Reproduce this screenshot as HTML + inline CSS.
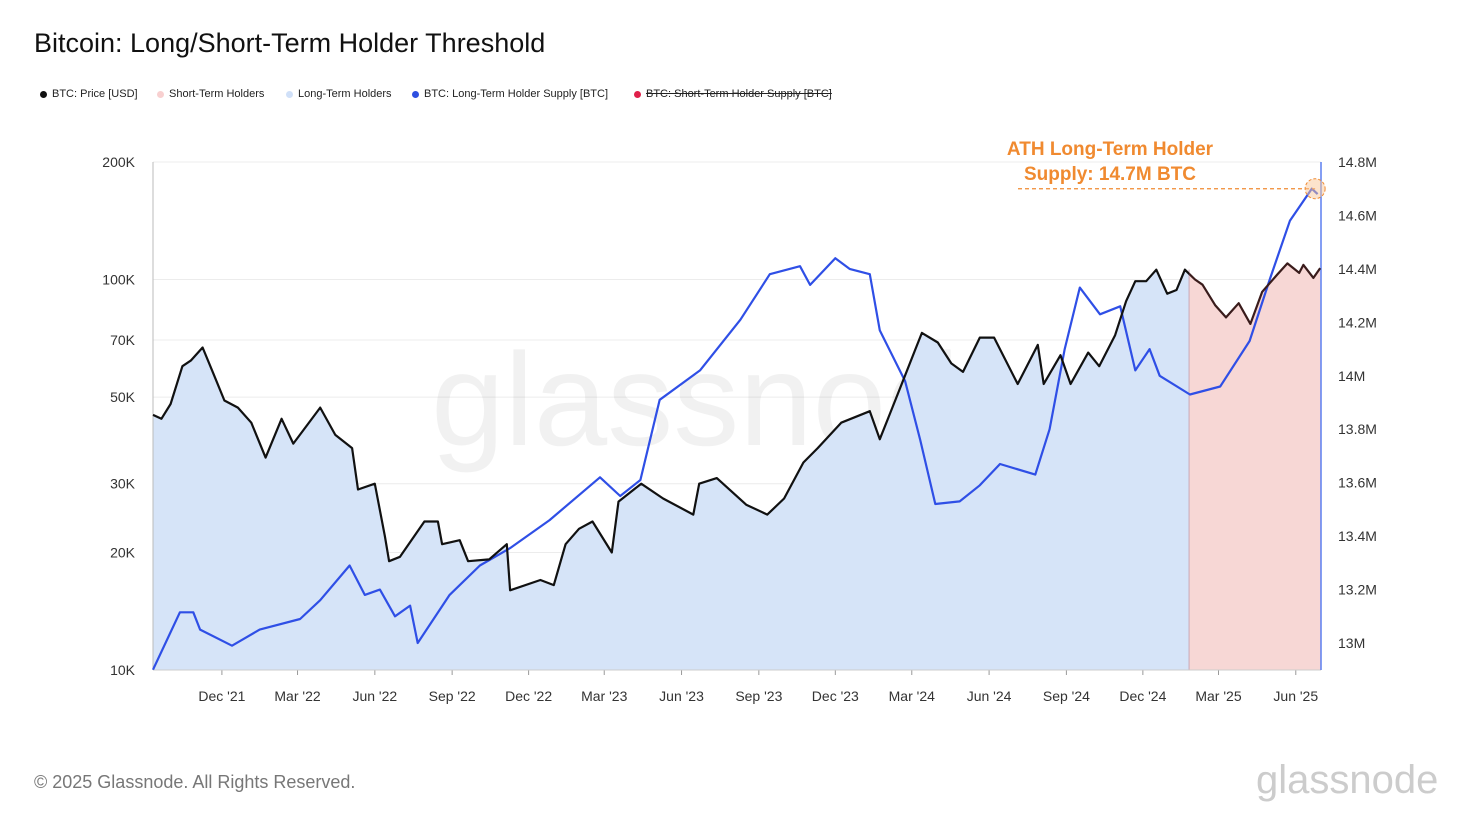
<!DOCTYPE html>
<html><head><meta charset="utf-8"><style>
body{margin:0;background:#fff;font-family:"Liberation Sans",sans-serif}
#wrap{position:relative;width:1470px;height:820px;overflow:hidden;background:#fff}
.t{position:absolute;white-space:nowrap}
.leg{position:absolute;top:88px;font-size:11px;color:#222;display:flex;align-items:center}
.leg i{display:inline-block;width:7px;height:7px;border-radius:50%;margin-right:5px}
</style></head><body>
<div id="wrap">
<div class="t" style="left:34px;top:28px;font-size:27px;color:#111">Bitcoin: Long/Short-Term Holder Threshold</div>
<div class="leg" style="left:40px"><i style="background:#111"></i>BTC: Price [USD]</div>
<div class="leg" style="left:157px"><i style="background:#f8d0d0"></i>Short-Term Holders</div>
<div class="leg" style="left:286px"><i style="background:#d0e0f8"></i>Long-Term Holders</div>
<div class="leg" style="left:412px"><i style="background:#2e4fe0"></i>BTC: Long-Term Holder Supply [BTC]</div>
<div class="leg" style="left:634px;text-decoration:line-through"><i style="background:#e0204a"></i>BTC: Short-Term Holder Supply [BTC]</div>
<svg id="chart" width="1470" height="820" style="position:absolute;left:0;top:0"></svg>
<div class="t" style="left:34px;top:772px;font-size:18px;color:#777">© 2025 Glassnode. All Rights Reserved.</div>
<div class="t" style="left:1256px;top:758px;font-size:40px;color:#ccc">glassnode</div>
</div>
<script>
const priceDates=["2021-09-10","2021-09-20","2021-10-01","2021-10-15","2021-10-25","2021-11-08","2021-11-20","2021-12-04","2021-12-20","2022-01-05","2022-01-22","2022-02-10","2022-02-24","2022-03-28","2022-04-15","2022-05-05","2022-05-12","2022-06-01","2022-06-13","2022-06-18","2022-07-01","2022-07-30","2022-08-15","2022-08-20","2022-09-10","2022-09-20","2022-10-15","2022-11-05","2022-11-09","2022-12-15","2022-12-31","2023-01-14","2023-01-30","2023-02-15","2023-03-10","2023-03-18","2023-04-14","2023-05-10","2023-06-15","2023-06-22","2023-07-13","2023-08-17","2023-09-11","2023-10-01","2023-10-24","2023-11-10","2023-12-08","2024-01-11","2024-01-23","2024-02-15","2024-03-05","2024-03-13","2024-04-01","2024-04-17","2024-05-01","2024-05-21","2024-06-07","2024-07-05","2024-07-29","2024-08-05","2024-08-25","2024-09-06","2024-09-27","2024-10-10","2024-10-29","2024-11-11","2024-11-22","2024-12-05","2024-12-17","2024-12-30","2025-01-10","2025-01-20","2025-02-01","2025-02-10","2025-02-25","2025-03-10","2025-03-25","2025-04-08","2025-04-22","2025-05-10","2025-05-22","2025-06-05","2025-06-10","2025-06-22","2025-06-30"];
const priceValues=[45000,44000,48000,60000,62000,67000,58000,49000,47000,43000,35000,44000,38000,47000,40000,37000,29000,30000,22000,19000,19500,24000,24000,21000,21500,19000,19200,21000,16000,17000,16500,21000,23000,24000,20000,27000,30000,27500,25000,30000,31000,26500,25000,27500,34000,37000,43000,46000,39000,52000,66000,73000,69000,61000,58000,71000,71000,54000,68000,54000,64000,54000,65000,60000,72000,88000,99000,99000,106000,92000,94000,106000,100000,97000,86000,80000,87000,77000,93000,103000,110000,104000,109000,101000,107000];
const lthDates=["2021-09-10","2021-10-12","2021-10-28","2021-11-05","2021-12-13","2022-01-15","2022-03-04","2022-03-28","2022-05-02","2022-05-20","2022-06-07","2022-06-25","2022-07-13","2022-07-22","2022-08-29","2022-10-04","2022-11-09","2022-12-26","2023-02-24","2023-03-20","2023-04-13","2023-05-06","2023-06-23","2023-08-10","2023-09-14","2023-10-20","2023-11-01","2023-12-01","2023-12-18","2024-01-11","2024-01-23","2024-02-22","2024-03-11","2024-03-29","2024-04-27","2024-05-21","2024-06-14","2024-07-26","2024-08-12","2024-08-30","2024-09-17","2024-10-11","2024-11-04","2024-11-22","2024-12-09","2024-12-21","2025-01-26","2025-03-03","2025-04-07","2025-05-01","2025-05-25","2025-06-20","2025-06-27"];
const lthValues=[12.90,13.115,13.115,13.05,12.99,13.05,13.09,13.16,13.29,13.18,13.20,13.10,13.14,13.00,13.18,13.29,13.355,13.46,13.62,13.55,13.61,13.91,14.02,14.21,14.38,14.41,14.34,14.44,14.40,14.38,14.17,13.98,13.76,13.52,13.53,13.59,13.67,13.63,13.80,14.10,14.33,14.23,14.26,14.02,14.10,14.00,13.93,13.96,14.13,14.36,14.58,14.70,14.68];
const leftTicks=[10000,20000,30000,50000,70000,100000,200000];
const leftTickLabels=["10K","20K","30K","50K","70K","100K","200K"];
const rightTicks=[13.0,13.2,13.4,13.6,13.8,14.0,14.2,14.4,14.6,14.8];
const rightTickLabels=["13M","13.2M","13.4M","13.6M","13.8M","14M","14.2M","14.4M","14.6M","14.8M"];
const xTickDates=["2021-12-01","2022-03-01","2022-06-01","2022-09-01","2022-12-01","2023-03-01","2023-06-01","2023-09-01","2023-12-01","2024-03-01","2024-06-01","2024-09-01","2024-12-01","2025-03-01","2025-06-01"];
const xTickLabels=["Dec '21","Mar '22","Jun '22","Sep '22","Dec '22","Mar '23","Jun '23","Sep '23","Dec '23","Mar '24","Jun '24","Sep '24","Dec '24","Mar '25","Jun '25"];
const sthStart="2025-01-25";
const athValue=14.70, athDate="2025-06-24";

const X0=153,X1=1321,YT=162,YB=670;
const t0=Date.parse("2021-09-10"), t1=Date.parse("2025-07-01");
const x=d=>X0+(Date.parse(d)-t0)/(t1-t0)*(X1-X0);
const yL=v=>YB-(Math.log10(v)-4)/(Math.log10(200000)-4)*(YB-YT);
const yR=v=>YT+(14.8-v)/1.8*481;
const svg=document.getElementById('chart');
const NS="http://www.w3.org/2000/svg";
function mk(tag,attrs,parent){const e=document.createElementNS(NS,tag);for(const k in attrs)e.setAttribute(k,attrs[k]);(parent||svg).appendChild(e);return e;}

leftTicks.forEach((v,i)=>{
  const g=mk('line',{x1:X0,x2:X1,y1:yL(v),y2:yL(v),stroke:'#ececec','stroke-width':1});
  
  
  const t=mk('text',{x:135,y:yL(v)+5,'text-anchor':'end','font-size':14,fill:'#333','font-family':'Liberation Sans, sans-serif'});
  t.textContent=leftTickLabels[i];
  
  
});
rightTicks.forEach((v,i)=>{
  const t=mk('text',{x:1338,y:yR(v)+5,'font-size':14,fill:'#333','font-family':'Liberation Sans, sans-serif'});
  t.textContent=rightTickLabels[i];
  
  
});
xTickDates.forEach((d,i)=>{
  const xx=x(d);
  mk('line',{x1:xx,x2:xx,y1:YB,y2:YB+5,stroke:'#999'});
  const t=mk('text',{x:xx,y:701,'text-anchor':'middle','font-size':14,fill:'#333','font-family':'Liberation Sans, sans-serif'});
  t.textContent=xTickLabels[i];
  
  
});
const wm=mk('text',{x:732,y:445,'text-anchor':'middle','font-size':132,fill:'#000','fill-opacity':0.055,'font-family':'Liberation Sans, sans-serif'});
wm.textContent='glassnode';



const defs=mk('defs',{});
const xs=x(sthStart);
const c1=mk('clipPath',{id:'cb'},defs);mk('rect',{x:0,y:0,width:xs,height:820},c1);
const c2=mk('clipPath',{id:'cr'},defs);mk('rect',{x:xs,y:0,width:1470-xs,height:820},c2);

let pts=priceDates.map((d,i)=>[x(d),yL(priceValues[i])]);
let lineD='M'+pts.map(p=>p[0].toFixed(1)+','+p[1].toFixed(1)).join('L');
let areaD=lineD+`L${X1},${YB}L${X0},${YB}Z`;
const a1=mk('path',{d:areaD,fill:'#d6e4f8','clip-path':'url(#cb)'});


const a2=mk('path',{d:areaD,fill:'#f7d7d5','clip-path':'url(#cr)'});


mk('line',{x1:xs,x2:xs,y1:yL(priceValues[71]),y2:YB,stroke:'#c9a8b8','stroke-width':1});
mk('line',{x1:X0,x2:X0,y1:YT,y2:YB,stroke:'#bbb'});
mk('line',{x1:X0,x2:X1,y1:YB,y2:YB,stroke:'#ccc'});
mk('line',{x1:X1,x2:X1,y1:YT,y2:YB,stroke:'#5b7ef0','stroke-width':1.5});

const lp=lthDates.map((d,i)=>[x(d),yR(lthValues[i])]);
const lth=mk('path',{d:'M'+lp.map(p=>p[0].toFixed(1)+','+p[1].toFixed(1)).join('L'),fill:'none',stroke:'#2f4fe6','stroke-width':2.2,'stroke-linejoin':'round'});



const p1=mk('path',{d:lineD,fill:'none',stroke:'#111','stroke-width':2.2,'clip-path':'url(#cb)','stroke-linejoin':'round'});


const p2=mk('path',{d:lineD,fill:'none',stroke:'#3a1c1c','stroke-width':2.2,'clip-path':'url(#cr)','stroke-linejoin':'round'});



const ax=x(athDate), ay=yR(athValue);
mk('line',{x1:1018,x2:ax,y1:ay,y2:ay,stroke:'#f08a30','stroke-width':1.3,'stroke-dasharray':'4,3'});
const circ=mk('circle',{cx:ax,cy:ay,r:10,fill:'#f9c79a','fill-opacity':0.5,stroke:'#f08a30','stroke-dasharray':'3,2'});


['ATH Long-Term Holder','Supply: 14.7M BTC'].forEach((s,i)=>{
  const t=mk('text',{x:1110,y:155+i*25,'text-anchor':'middle','font-size':19,'font-weight':'bold',fill:'#f08a30','font-family':'Liberation Sans, sans-serif'});
  t.textContent=s;
  
  
});
</script>
</body></html>
